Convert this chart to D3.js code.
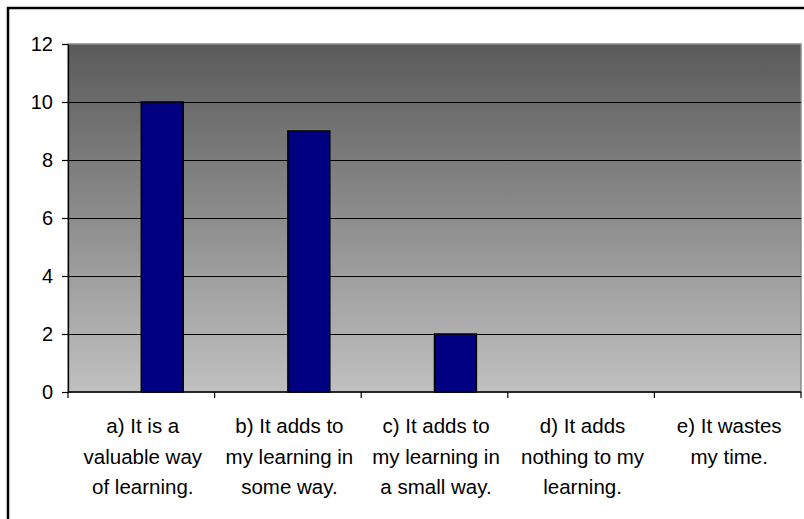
<!DOCTYPE html>
<html>
<head>
<meta charset="utf-8">
<script src="https://cdn.jsdelivr.net/npm/d3@7"></script>
<style>
  html, body { margin: 0; padding: 0; background: #fff; }
  svg { display: block; }
  text { font-family: "Liberation Sans", Arial, sans-serif; fill: #000; }
</style>
</head>
<body>
<svg id="chart" width="804" height="519"></svg>
<script>
// Survey responses
const categories = [
  "a) It is a\nvaluable way\nof learning.",
  "b) It adds to\nmy learning in\nsome way.",
  "c) It adds to\nmy learning in\na small way.",
  "d) It adds\nnothing to my\nlearning.",
  "e) It wastes\nmy time."
];
const seriesKeys = ["blank", "responses"];
const responses = [10, 9, 2, 0, 0];
const yTicks = [0, 2, 4, 6, 8, 10, 12];

const svg = d3.select("#chart");
const W = 804, H = 519;
const plot = { left: 68, right: 801, top: 44, bottom: 392 };

// Outer frame (runs off the right and bottom edges)
svg.append("path")
  .attr("d", `M8,${H + 5} V8 H${W + 5}`)
  .attr("fill", "none")
  .attr("stroke", "#000")
  .attr("stroke-width", 2.5);

// Plot background gradient
const defs = svg.append("defs");
const grad = defs.append("linearGradient")
  .attr("id", "plotBg").attr("x1", 0).attr("y1", 0).attr("x2", 0).attr("y2", 1);
grad.append("stop").attr("offset", "0%").attr("stop-color", "#5a5a5a");
grad.append("stop").attr("offset", "100%").attr("stop-color", "#c0c0c0");

svg.append("rect")
  .attr("x", plot.left).attr("y", plot.top)
  .attr("width", plot.right - plot.left).attr("height", plot.bottom - plot.top)
  .attr("fill", "url(#plotBg)")
  .attr("stroke", "#8a8a8a").attr("stroke-width", 1.5);

// Scales
const x = d3.scaleBand()
  .domain(categories)
  .range([plot.left, plot.right])
  .paddingInner(0).paddingOuter(0);
const xInner = d3.scaleBand()
  .domain(seriesKeys)
  .range([0, x.bandwidth()])
  .paddingInner(0).paddingOuter(0.75);
const y = d3.scaleLinear()
  .domain([0, 12])
  .range([plot.bottom, plot.top]);

// Gridlines
svg.append("g")
  .selectAll("line")
  .data(yTicks.filter(t => t > 0 && t < 12))
  .join("line")
  .attr("x1", plot.left).attr("x2", plot.right)
  .attr("y1", d => Math.round(y(d)) + 0.5).attr("y2", d => Math.round(y(d)) + 0.5)
  .attr("stroke", "#000").attr("stroke-width", 1.2);

// Bars
svg.append("g")
  .selectAll("rect")
  .data(responses.map((v, i) => ({ cat: categories[i], v })))
  .join("rect")
  .attr("x", d => x(d.cat) + xInner("responses"))
  .attr("y", d => y(d.v))
  .attr("width", xInner.bandwidth())
  .attr("height", d => y(0) - y(d.v))
  .attr("fill", "#000080")
  .attr("stroke", "#000")
  .attr("stroke-width", 1.5);

// Y axis
const yAxis = svg.append("g")
  .attr("transform", `translate(${plot.left},0)`)
  .call(d3.axisLeft(y).tickValues(yTicks).tickSize(6).tickPadding(9).tickSizeOuter(0));
yAxis.select(".domain").attr("stroke", "#000").attr("stroke-width", 1.3);
yAxis.selectAll(".tick line").attr("stroke", "#000").attr("stroke-width", 1.2);
yAxis.selectAll(".tick text")
  .style("font-family", "'Liberation Sans', Arial, sans-serif")
  .style("font-size", "20px").attr("fill", "#000");

// X axis: ticks at category boundaries
const bounds = categories.map(c => x(c)).concat([plot.right]);
const xAxisG = svg.append("g");
xAxisG.append("line")
  .attr("x1", plot.left).attr("x2", plot.right)
  .attr("y1", plot.bottom).attr("y2", plot.bottom)
  .attr("stroke", "#000").attr("stroke-width", 1.5);
xAxisG.selectAll("line.tick")
  .data(bounds)
  .join("line")
  .attr("class", "tick")
  .attr("x1", d => d).attr("x2", d => d)
  .attr("y1", plot.bottom).attr("y2", plot.bottom + 6)
  .attr("stroke", "#000").attr("stroke-width", 1.2);

// Category labels
const labels = svg.append("g")
  .selectAll("text")
  .data(categories)
  .join("text")
  .attr("text-anchor", "middle")
  .style("font-size", "20.5px");
labels.each(function (d) {
  const t = d3.select(this);
  const cx = x(d) + x.bandwidth() / 2 + 1.5;
  d.split("\n").forEach((line, i) => {
    t.append("tspan").attr("x", cx).attr("y", 433 + i * 30.5).text(line);
  });
});
</script>
</body>
</html>
